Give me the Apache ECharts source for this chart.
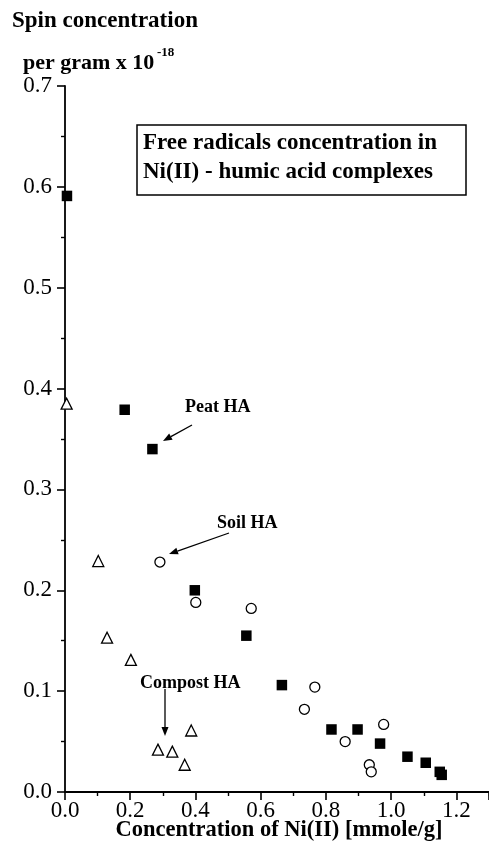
<!DOCTYPE html>
<html><head><meta charset="utf-8">
<script src="https://cdn.jsdelivr.net/npm/echarts@6/dist/echarts.min.js"></script>
<style>html,body{margin:0;padding:0;background:#fff}#c{width:489px;height:841px}</style>
</head><body><div id="c"></div>
<script>
// Peat HA (filled squares)
const peatX = [0.006, 0.183, 0.268, 0.398, 0.556, 0.665, 0.817, 0.897, 0.966, 1.050, 1.106, 1.149, 1.155];
const peatY = [0.591, 0.379, 0.340, 0.200, 0.155, 0.106, 0.062, 0.062, 0.048, 0.035, 0.029, 0.020, 0.017];
// Soil HA (open circles)
const soilX = [0.291, 0.401, 0.571, 0.766, 0.734, 0.859, 0.977, 0.933, 0.939];
const soilY = [0.228, 0.188, 0.182, 0.104, 0.082, 0.050, 0.067, 0.027, 0.020];
// Compost HA (open triangles)
const compX = [0.005, 0.102, 0.129, 0.202, 0.285, 0.329, 0.367, 0.387];
const compY = [0.385, 0.229, 0.153, 0.131, 0.042, 0.040, 0.027, 0.061];
const xTicks = [0.0, 0.2, 0.4, 0.6, 0.8, 1.0, 1.2];
const yTicks = [0.0, 0.1, 0.2, 0.3, 0.4, 0.5, 0.6, 0.7];

const FONT = '"Liberation Serif", "Times New Roman", serif';
const zip = (a, b) => a.map((v, i) => [v, b[i]]);

function arrow(x1, y1, x2, y2) {
  const ang = Math.atan2(y2 - y1, x2 - x1);
  const L = 9, W = 3.5;
  const bx = x2 - L * Math.cos(ang), by = y2 - L * Math.sin(ang);
  const px = -Math.sin(ang) * W, py = Math.cos(ang) * W;
  return [
    { type: 'line', shape: { x1: x1, y1: y1, x2: bx, y2: by }, style: { stroke: '#000', lineWidth: 1.3 } },
    { type: 'polygon', shape: { points: [[x2, y2], [bx + px, by + py], [bx - px, by - py]] }, style: { fill: '#000' } }
  ];
}

const chart = echarts.init(document.getElementById('c'), null, { renderer: 'canvas' });
const axisCommon = {
  axisLine: { show: true, onZero: false, lineStyle: { color: '#000', width: 1.8 } },
  axisTick: { show: true, inside: false, length: 8, lineStyle: { color: '#000', width: 1.6 } },
  minorTick: { show: true, splitNumber: 2, length: 4, lineStyle: { color: '#000', width: 1.4 } },
  splitLine: { show: false }
};
chart.setOption({
  animation: false,
  backgroundColor: '#fff',
  grid: { left: 65, right: 0, top: 86, bottom: 49, containLabel: false, outerBoundsMode: 'none' },
  xAxis: Object.assign({}, axisCommon, {
    type: 'value', min: 0, max: 1.3, interval: 0.2,
    axisLabel: { color: '#000', fontFamily: FONT, fontSize: 23, margin: 7,
      formatter: v => xTicks.some(t => Math.abs(t - v) < 1e-9) ? v.toFixed(1) : '' }
  }),
  yAxis: Object.assign({}, axisCommon, {
    type: 'value', min: 0, max: 0.7, interval: 0.1,
    axisLabel: { color: '#000', fontFamily: FONT, fontSize: 23, margin: 13,
      formatter: v => yTicks.some(t => Math.abs(t - v) < 1e-9) ? v.toFixed(1) : '' }
  }),
  series: [
    { type: 'scatter', name: 'Peat HA', data: zip(peatX, peatY), symbol: 'rect', symbolSize: 10.5,
      itemStyle: { color: '#000', opacity: 1 } },
    { type: 'scatter', name: 'Soil HA', data: zip(soilX, soilY), symbol: 'circle', symbolSize: 10,
      itemStyle: { color: '#fff', borderColor: '#000', borderWidth: 1.3, opacity: 1 } },
    { type: 'scatter', name: 'Compost HA', data: zip(compX, compY), symbol: 'triangle', symbolSize: 11,
      itemStyle: { color: '#fff', borderColor: '#000', borderWidth: 1.3, opacity: 1 } }
  ],
  graphic: [
    { type: 'text', x: 12, y: 10, style: { text: 'Spin concentration', font: 'bold 23px ' + FONT, fill: '#000' } },
    { type: 'text', x: 23, y: 52, style: { text: 'per gram x 10', font: 'bold 22px ' + FONT, fill: '#000' } },
    { type: 'text', x: 157, y: 46, style: { text: '-18', font: 'bold 13px ' + FONT, fill: '#000' } },
    { type: 'rect', shape: { x: 137, y: 125, width: 329, height: 70 }, style: { fill: '#fff', stroke: '#000', lineWidth: 1.5 } },
    { type: 'text', x: 143, y: 132, style: { text: 'Free radicals concentration in', font: 'bold 23px ' + FONT, fill: '#000' } },
    { type: 'text', x: 143, y: 161, style: { text: 'Ni(II) - humic acid complexes', font: 'bold 23px ' + FONT, fill: '#000' } },
    { type: 'text', x: 185, y: 398, style: { text: 'Peat HA', font: 'bold 18px ' + FONT, fill: '#000' } },
    { type: 'text', x: 217, y: 514, style: { text: 'Soil HA', font: 'bold 18px ' + FONT, fill: '#000' } },
    { type: 'text', x: 140, y: 674, style: { text: 'Compost HA', font: 'bold 18px ' + FONT, fill: '#000' } },
    { type: 'text', x: 279, y: 830, style: { text: 'Concentration of Ni(II) [mmole/g]', font: 'bold 22.5px ' + FONT, fill: '#000',
      textAlign: 'center', textVerticalAlign: 'middle' } }
  ].concat(arrow(192, 425, 163, 441), arrow(229, 533, 169, 554), arrow(165, 689, 165, 736))
});
</script></body></html>
